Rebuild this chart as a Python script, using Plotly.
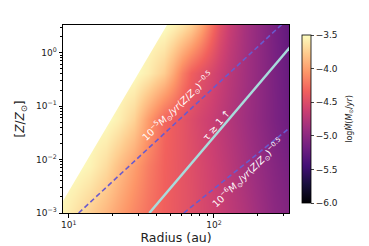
import numpy as np
import plotly.graph_objects as go

# ---- data ----
radius = [9, 11, 14, 18, 22, 28, 35, 45, 52, 60, 70, 82, 95, 110, 130, 160, 200, 260, 330]
metallicity = [0.001, 0.0075, 0.0562, 0.4217, 3.162]
log_mdot = [
    [-3.54, -3.64, -3.75, -3.88, -3.99, -4.13, -4.24, -4.34, -4.39, -4.43, -4.47, -4.53, -4.58, -4.63, -4.70, -4.78, -4.88, -5.00, -5.07],
    [-3.50, -3.50, -3.555, -3.68, -3.83, -4.01, -4.18, -4.33, -4.38, -4.43, -4.48, -4.54, -4.60, -4.66, -4.73, -4.83, -4.93, -5.04, -5.13],
    [-3.50, -3.50, -3.50, -3.50, -3.57, -3.73, -4.02, -4.30, -4.37, -4.43, -4.50, -4.57, -4.63, -4.70, -4.77, -4.87, -4.975, -5.10, -5.20],
    [-3.50, -3.50, -3.50, -3.50, -3.50, -3.50, -3.59, -3.76, -3.95, -4.17, -4.34, -4.45, -4.54, -4.63, -4.73, -4.85, -4.97, -5.11, -5.23],
    [-3.50, -3.50, -3.50, -3.50, -3.50, -3.50, -3.50, -3.50, -3.56, -3.64, -3.75, -3.96, -4.23, -4.47, -4.65, -4.83, -4.97, -5.13, -5.27],
]
# saturated (blank) region boundary
mask_R = [5, 60.5, 5]
mask_Z = [1.05e-4, 10, 10]
# reference lines
dash_hi_R = [11.7, 452]
dash_hi_Z = [1e-3, 10]
dash_lo_R = [62, 500]
dash_lo_Z = [1e-3, 0.095]
tau_R = [35.9, 500]
tau_Z = [1e-3, 4.58]

cbar_vals = [-6.0, -5.5, -5.0, -4.5, -4.0, -3.5]
cbar_text = ["\u22126.0", "\u22125.5", "\u22125.0", "\u22124.5", "\u22124.0", "\u22123.5"]
x_ticks = [10, 100]
x_ticktext = ["10<sup>1</sup>", "10<sup>2</sup>"]
y_ticks = [1e-3, 1e-2, 1e-1, 1]
y_ticktext = ["10<sup>\u22123</sup>", "10<sup>\u22122</sup>", "10<sup>\u22121</sup>", "10<sup>0</sup>"]
x_minor = [20, 30, 40, 50, 60, 70, 80, 90, 200, 300]
y_minor = [m * 10.0**e for e in (-3, -2, -1, 0) for m in range(2, 10)]

FONT = "DejaVu Sans"
W, H = 369, 246
L, R_, T, B = 46, 88, 17, 31

fig = go.Figure()
fig.add_trace(go.Heatmap(
    x=radius, y=metallicity, z=log_mdot,
    colorscale="Magma", zmin=-6, zmax=-3.5, zsmooth="best",
    hoverinfo="skip",
    colorbar=dict(
        thickness=9, len=1, lenmode="fraction", y=0.5, yanchor="middle",
        x=(295 - L) / (W - L - R_), xanchor="left", xpad=0,
        outlinewidth=0.8, outlinecolor="black",
        tickvals=cbar_vals, ticktext=cbar_text, ticks="outside", ticklen=3,
        tickfont=dict(family=FONT, size=9, color="#222"),
    ),
))
fig.add_trace(go.Scatter(x=mask_R, y=mask_Z, mode="lines", fill="toself",
                         fillcolor="white", line=dict(width=0, color="white"),
                         hoverinfo="skip", showlegend=False))
fig.add_trace(go.Scatter(x=dash_hi_R, y=dash_hi_Z, mode="lines",
                         line=dict(color="#6a5acd", width=1.6, dash="5px,3px"),
                         hoverinfo="skip", showlegend=False))
fig.add_trace(go.Scatter(x=dash_lo_R, y=dash_lo_Z, mode="lines",
                         line=dict(color="#6a5acd", width=1.6, dash="5px,3px"),
                         hoverinfo="skip", showlegend=False))
fig.add_trace(go.Scatter(x=tau_R, y=tau_Z, mode="lines",
                         line=dict(color="#a8dcdc", width=2.5),
                         hoverinfo="skip", showlegend=False))

lab_font = dict(family=FONT, size=9.5, color="white")
fig.add_annotation(x=np.log10(57), y=-1.0, xref="x", yref="y", showarrow=False,
                   text="10<sup>\u22125</sup><i>M</i><sub>\u2299</sub>/<i>yr</i>(<i>Z</i>/<i>Z</i><sub>\u2299</sub>)<sup>\u22120.5</sup>",
                   textangle=-44, font=lab_font)
fig.add_annotation(x=np.log10(104.7), y=-1.348, xref="x", yref="y", showarrow=False,
                   text="\u03c4 \u2273 1 \u2191", textangle=-50, font=lab_font)
fig.add_annotation(x=np.log10(172), y=-2.25, xref="x", yref="y", showarrow=False,
                   text="10<sup>\u22126</sup><i>M</i><sub>\u2299</sub>/<i>yr</i>(<i>Z</i>/<i>Z</i><sub>\u2299</sub>)<sup>\u22120.5</sup>",
                   textangle=-44, font=lab_font)
fig.add_annotation(x=(351 - L) / (W - L - R_), y=0.5, xref="paper", yref="paper",
                   showarrow=False, textangle=-90,
                   text="log<i>\u1e40</i>(<i>M</i><sub>\u2299</sub>/<i>yr</i>)",
                   font=dict(family=FONT, size=8, color="#222"))

axis_common = dict(showline=True, mirror=True, linecolor="black", linewidth=1,
                   showgrid=False, zeroline=False, ticks="outside", ticklen=3.5,
                   tickwidth=0.8, tickcolor="black",
                   tickfont=dict(family=FONT, size=9, color="#222"))
fig.update_layout(
    width=W, height=H, margin=dict(l=L, r=R_, t=T, b=B),
    paper_bgcolor="white", plot_bgcolor="white", showlegend=False,
    xaxis=dict(type="log", range=[np.log10(9.13), np.log10(329)],
               tickvals=x_ticks, ticktext=x_ticktext,
               minor=dict(tickvals=x_minor, ticks="outside", ticklen=2, tickwidth=0.6, tickcolor="black"),
               title=dict(text="Radius (au)", font=dict(family=FONT, size=12.5, color="#222"), standoff=3),
               **axis_common),
    yaxis=dict(type="log", range=[-3, 0.517],
               tickvals=y_ticks, ticktext=y_ticktext,
               minor=dict(tickvals=y_minor, ticks="outside", ticklen=2, tickwidth=0.6, tickcolor="black"),
               title=dict(text="[<i>Z</i>/<i>Z</i><sub>\u2299</sub>]", font=dict(family=FONT, size=12, color="#222"), standoff=8),
               **axis_common),
)
fig.write_html("out.html")
